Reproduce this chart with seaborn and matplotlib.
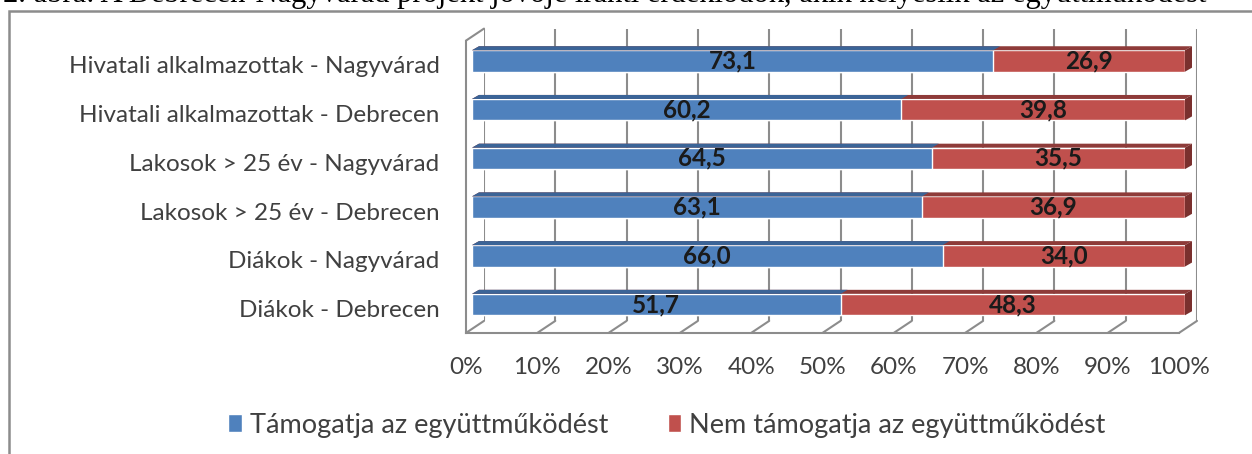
import matplotlib
matplotlib.use("Agg")
import numpy as np
import pandas as pd
import matplotlib.pyplot as plt
import seaborn as sns
from matplotlib.patches import Polygon, Rectangle
from matplotlib.lines import Line2D
from matplotlib.transforms import IdentityTransform

# Data
categories = [
    "Hivatali alkalmazottak - Nagyvárad",
    "Hivatali alkalmazottak - Debrecen",
    "Lakosok > 25 év - Nagyvárad",
    "Lakosok > 25 év - Debrecen",
    "Diákok - Nagyvárad",
    "Diákok - Debrecen",
]
support = [73.1, 60.2, 64.5, 63.1, 66.0, 51.7]
oppose = [26.9, 39.8, 35.5, 36.9, 34.0, 48.3]
series_names = ["Támogatja az együttműködést", "Nem támogatja az együttműködést"]
x_ticks = list(range(0, 101, 10))
x_tick_labels = [f"{t}%" for t in x_ticks]
caption = ("2. ábra: A Debrecen-Nagyvárad projekt jövője iránti érdeklődők, "
           "akik helyeslik az együttműködést")

blue, blue_top = "#4F81BD", "#3B6497"
red, red_top, red_side = "#C0504D", "#8E3B39", "#7A302E"
grid_col = "#8C8C8C"
text_col = "#404040"

df = pd.DataFrame({
    "group": categories,
    "support": support,
    "total": [s + o for s, o in zip(support, oppose)],
})

W, H = 1252, 454
sns.set_theme(style="white")
plt.rcParams["font.family"] = ["Lato", "DejaVu Sans"]

fig = plt.figure(figsize=(W / 100, H / 100), dpi=100)

# pixel geometry of the plane holding the bar front faces
left_px, right_px = 472, 1185
top_px, bot_px = 36.6, 328.9


def rect(dx, dy):
    # dx to the right, dy downwards, in pixels
    return [(left_px + dx) / W, 1 - (bot_px + dy) / H,
            (right_px - left_px) / W, (bot_px - top_px) / H]


ax_back = fig.add_axes(rect(12, -8), zorder=0)
ax_front = fig.add_axes(rect(-6, 4), zorder=1)
ax = fig.add_axes(rect(0, 0), zorder=2)

for a in (ax_back, ax_front, ax):
    a.set_xlim(0, 100)
    a.set_ylim(len(categories) - 0.5, -0.5)
    a.patch.set_visible(False)

# back wall: vertical gridlines
for s in ax_back.spines.values():
    s.set_visible(False)
ax_back.set_xticks(x_ticks)
ax_back.set_yticks([])
ax_back.tick_params(length=0, labelbottom=False)
ax_back.grid(axis="x", color=grid_col, lw=1.5)

# front edges: axis lines, ticks and labels
for side in ("top", "right"):
    ax_front.spines[side].set_visible(False)
for side in ("left", "bottom"):
    ax_front.spines[side].set_color(grid_col)
    ax_front.spines[side].set_linewidth(1.5)
ax_front.set_xticks(x_ticks)
ax_front.set_xticklabels(x_tick_labels)
ax_front.set_yticks(np.arange(-0.5, len(categories), 1))
ax_front.set_yticklabels([])
ax_front.set_yticks(range(len(categories)), minor=True)
ax_front.set_yticklabels(categories, minor=True)
ax_front.tick_params(axis="x", length=8, width=1.5, color=grid_col, pad=9,
                     labelsize=17.5, labelcolor=text_col)
ax_front.tick_params(axis="y", which="major", length=8, width=1.5, color=grid_col)
ax_front.tick_params(axis="y", which="minor", length=0, pad=19,
                     labelsize=17.5, labelcolor=text_col)

# floor lines joining the front ticks to the back wall
def link(x, y):
    p0 = ax_front.transData.transform((x, y))
    p1 = ax_back.transData.transform((x, y))
    fig.add_artist(Line2D([p0[0], p1[0]], [p0[1], p1[1]], color=grid_col, lw=1.5,
                          transform=IdentityTransform(), zorder=0.5))


for t in x_ticks:
    link(t, len(categories) - 0.5)
link(0, -0.5)

# stacked bars: full length in red, supporters in blue on top
sns.barplot(data=df, x="total", y="group", orient="h", color=red, saturation=1,
            width=0.44, errorbar=None, ax=ax, label=series_names[1])
sns.barplot(data=df, x="support", y="group", orient="h", color=blue, saturation=1,
            width=0.44, errorbar=None, ax=ax, label=series_names[0])
ax.set_xlim(0, 100)
ax.set_ylim(len(categories) - 0.5, -0.5)
ax.set_axis_off()
if ax.get_legend():
    ax.get_legend().remove()

# 3D faces of the bars (depth in pixels)
ddx, ddy = 7, 4
red_bars, blue_bars = ax.containers[0], ax.containers[1]


def faces(bar, top_col, side_col=None, z=2.5):
    (x0, y0), (x1, y1) = ax.transData.transform(
        [(bar.get_x(), bar.get_y()), (bar.get_x() + bar.get_width(), bar.get_y() + bar.get_height())])
    xl, xr = min(x0, x1), max(x0, x1)
    yb, yt = min(y0, y1), max(y0, y1)
    ax.add_patch(Polygon([(xl, yt), (xr, yt), (xr + ddx, yt + ddy), (xl + ddx, yt + ddy)],
                         closed=True, facecolor=top_col, edgecolor="none",
                         transform=IdentityTransform(), clip_on=False, zorder=z))
    if side_col:
        ax.add_patch(Polygon([(xr, yb), (xr, yt), (xr + ddx, yt + ddy), (xr + ddx, yb + ddy)],
                             closed=True, facecolor=side_col, edgecolor="none",
                             transform=IdentityTransform(), clip_on=False, zorder=z))


for bar in red_bars:
    faces(bar, red_top, red_side, z=2.5)
for bar in blue_bars:
    faces(bar, blue_top, z=2.6)

# value labels
fmt = lambda v: f"{v:.1f}".replace(".", ",")
ax.bar_label(blue_bars, labels=[fmt(v) for v in support], label_type="center",
             fontsize=17.5, fontweight="bold", color="#1a1a1a")
for i, (s, o) in enumerate(zip(support, oppose)):
    ax.text(s + o / 2, i, fmt(o), ha="center", va="center",
            fontsize=17.5, fontweight="bold", color="#1a1a1a")

# legend
handles, labels = ax.get_legend_handles_labels()
order = [labels.index(n) for n in series_names]
leg = fig.legend([handles[i] for i in order], [labels[i] for i in order],
                 loc="center", bbox_to_anchor=(667 / W, 1 - 425 / H), ncol=2,
                 frameon=False, fontsize=19.5, handlelength=0.5, handleheight=0.65,
                 handletextpad=0.3, columnspacing=2.2)
for t in leg.get_texts():
    t.set_color(text_col)

# frame of the chart object and the cut-off caption above it
fig.add_artist(Rectangle((9 / W, -0.5), 2, 1 - 11 / H + 0.5, fill=False,
                         edgecolor="#8C8C8C", lw=1.8, transform=fig.transFigure))
fig.text(0.002, 1 - 2 / H, caption, family="Liberation Serif", fontsize=22,
         va="baseline", ha="left", color="black")

fig.savefig("out.png", dpi=100)
